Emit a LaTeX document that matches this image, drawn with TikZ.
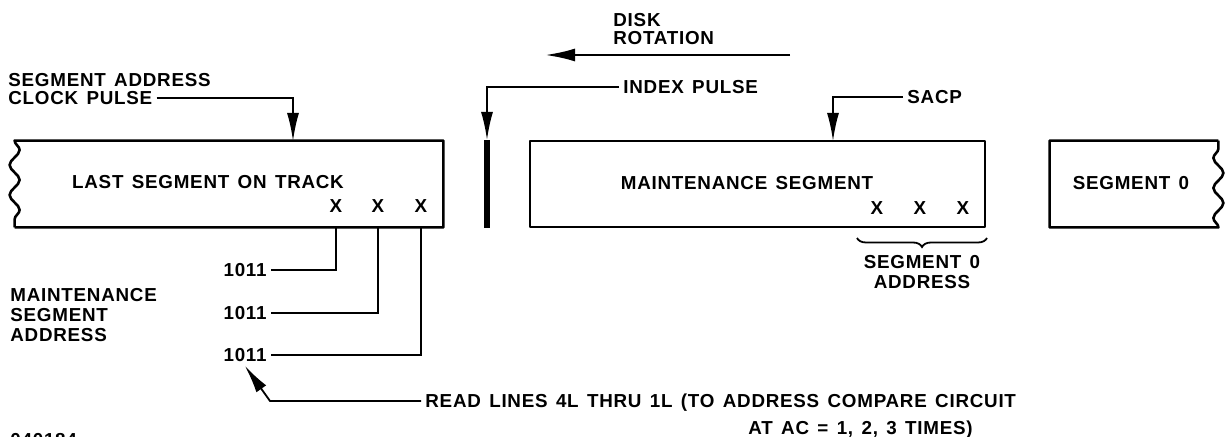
\documentclass[tikz,border=0pt]{standalone}
\usepackage{fontspec}
\setmainfont{Liberation Sans}[LetterSpace=4,WordSpace=1.4]
\usetikzlibrary{arrows.meta,decorations.pathmorphing,decorations.pathreplacing}

\begin{document}
\begin{tikzpicture}[x=0.5pt,y=-0.5pt,
  lbl/.style={font=\bfseries\fontsize{9.4pt}{10pt}\selectfont, inner sep=2pt, text height=6.7pt, text depth=0pt},
  lbltwo/.style={font=\bfseries\fontsize{9.4pt}{10pt}\selectfont, inner sep=2pt},
  segbox/.style={minimum height=43pt, inner sep=0pt},
  outline/.style={line width=1.3pt, line join=round},
  sig/.style={line width=0.9pt},
  tip/.style={-{Latex[length=14pt,width=6pt]}}]
  \useasboundingbox (0,0) rectangle (1226,437);
  % segments on the track
  \node[segbox, minimum width=214pt] (last) at (229,184) {};
  \draw[outline] (last.south west) -- (last.south east) -- (last.north east) -- (last.north west)
    decorate[decoration={snake, segment length=15pt, amplitude=2.5pt}] {-- (last.south west)};
  \node[segbox, draw, outline, minimum width=227.5pt] (maint) at (757.5,184) {};
  \node[segbox, minimum width=84pt] (seg0) at (1134,184) {};
  \draw[outline] (seg0.north east) -- (seg0.north west) -- (seg0.south west) -- (seg0.south east)
    decorate[decoration={snake, segment length=15pt, amplitude=2.5pt}] {-- (seg0.north east)};
  \node[lbl] (lastlbl) at (208,182) {LAST SEGMENT ON TRACK};
  \node[lbl] (maintlbl) at (747,183) {MAINTENANCE SEGMENT};
  \node[lbl] (seg0lbl) at (1131,183) {SEGMENT 0};
  \foreach \x [count=\i] in {336,378,421} \node[lbl] (xl\i) at (\x,206) {X};
  \foreach \x [count=\i] in {877,920,963} \node[lbl] (xm\i) at (\x,208) {X};

  % address bits read out
  \foreach \y [count=\i] in {270,313,355} \node[lbl, anchor=east] (addr\i) at (271,\y) {1011};
  \foreach \i in {1,2,3} \draw[sig] (last.south -| xl\i) |- (addr\i);
  \node[lbltwo, align=left, anchor=west] (msa) at (6,315) {MAINTENANCE\\SEGMENT\\ADDRESS};

  % clock pulses
  \node[lbl, anchor=west] (sacl1) at (4,80) {SEGMENT ADDRESS};
  \node[lbl, anchor=west] (sacl2) at (4,98) {CLOCK PULSE};
  \coordinate (sacp1) at (293,141);
  \draw[sig,tip] (sacl2) -| (sacp1);
  \node[lbl, anchor=west] (sacp) at (903,97) {SACP};
  \coordinate (sacp2) at (833,141);
  \draw[sig,tip] (sacp) -| (sacp2);

  % index mark
  \node[lbl, anchor=west] (idx) at (619,87) {INDEX PULSE};
  \coordinate (idxtop) at (487,140);
  \coordinate (idxbot) at (487,228);
  \draw[line width=3pt] (idxtop) -- (idxbot);
  \draw[sig,tip] (idx) -| (idxtop);

  % rotation
  \node[lbltwo, align=left, anchor=west, font=\bfseries\fontsize{9.4pt}{9pt}\selectfont] (disk) at (609,29) {DISK\\ROTATION};
  \coordinate (rotR) at (790,55);
  \coordinate (rotL) at (545,55);
  \draw[line width=1.3pt, -{Latex[length=15pt,width=6.5pt]}] (rotR) -- (rotL);

  % segment 0 address
  \coordinate (brL) at (857,238);
  \coordinate (brR) at (987,238);
  \draw[sig, decorate, decoration={brace, mirror, amplitude=4.5pt}] (brL) -- (brR);
  \node[lbltwo, align=center] (seg0addr) at (922,272) {SEGMENT 0\\ADDRESS};

  % read lines
  \node[lbl, anchor=west] (read1) at (421,401) {READ LINES 4L THRU 1L (TO ADDRESS COMPARE CIRCUIT};
  \node[lbl, anchor=west] (read2) at (744,428) {AT AC = 1, 2, 3 TIMES)};
  \coordinate (readbend) at (270,401);
  \coordinate (readtip) at (245,366);
  \draw[sig,tip] (read1.west) -- (readbend) -- (readtip);

  \node[lbl, anchor=west] (fignum) at (6,440) {040184};
\end{tikzpicture}
\end{document}
